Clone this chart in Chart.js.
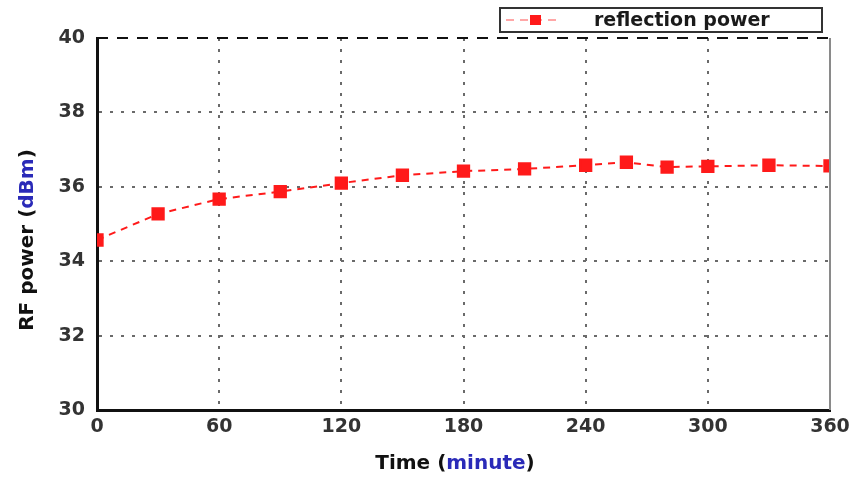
<!DOCTYPE html>
<html>
<head>
<meta charset="utf-8">
<script src="https://cdn.jsdelivr.net/npm/chart.js@4"></script>
<style>
  html, body { margin: 0; padding: 0; background: #fff; }
  #wrap { width: 857px; height: 480px; position: relative; }
</style>
</head>
<body>
<div id="wrap"><canvas id="chart" width="857" height="480"></canvas></div>
<script>
(function() {
  "use strict";

  // ── Data ──
  const timeMin = [0, 30, 60, 90, 120, 150, 180, 210, 240, 260, 280, 300, 330, 360];
  const rfPower = [34.57, 35.27, 35.67, 35.87, 36.1, 36.31, 36.42, 36.48, 36.58, 36.66, 36.53, 36.55, 36.58, 36.56];
  const xTicks = [0, 60, 120, 180, 240, 300, 360];
  const yTicks = [30, 32, 34, 36, 38, 40];
  const seriesName = 'reflection power';

  const RED = '#ff1a1a';
  const FONT = "'DejaVu Sans', sans-serif";

  // ── Frame + axis titles + legend ──
  const decor = {
    id: 'decor',
    afterDraw(chart) {
      const { ctx, chartArea: a } = chart;
      ctx.save();

      // right frame
      ctx.strokeStyle = '#8a8a8a';
      ctx.lineWidth = 2;
      ctx.beginPath();
      ctx.moveTo(a.right, a.top);
      ctx.lineTo(a.right, a.bottom);
      ctx.stroke();

      // top frame, dashed
      ctx.strokeStyle = '#111';
      ctx.lineWidth = 2;
      ctx.setLineDash([11, 9]);
      ctx.beginPath();
      ctx.moveTo(a.left, a.top);
      ctx.lineTo(a.right, a.top);
      ctx.stroke();
      ctx.setLineDash([]);

      // x title: Time (minute)
      ctx.font = `bold 20px ${FONT}`;
      ctx.textBaseline = 'middle';
      const parts = [['Time (', '#111'], ['minute', '#2a2ab8'], [')', '#111']];
      const total = parts.reduce((s, p) => s + ctx.measureText(p[0]).width, 0);
      let x = 455 - total / 2;
      parts.forEach(([t, c]) => {
        ctx.fillStyle = c;
        ctx.textAlign = 'left';
        ctx.fillText(t, x, 464);
        x += ctx.measureText(t).width;
      });

      // y title: RF power (dBm)
      ctx.translate(28, 240);
      ctx.rotate(-Math.PI / 2);
      const yparts = [['RF power (', '#111'], ['dBm', '#2a2ab8'], [')', '#111']];
      const ytot = yparts.reduce((s, p) => s + ctx.measureText(p[0]).width, 0);
      let yx = -ytot / 2;
      yparts.forEach(([t, c]) => {
        ctx.fillStyle = c;
        ctx.fillText(t, yx, 0);
        yx += ctx.measureText(t).width;
      });
      ctx.setTransform(1, 0, 0, 1, 0, 0);

      // legend box
      const lx = 500, ly = 8, lw = 322, lh = 24;
      ctx.fillStyle = '#fff';
      ctx.fillRect(lx, ly, lw, lh);
      ctx.strokeStyle = '#333';
      ctx.lineWidth = 2;
      ctx.strokeRect(lx, ly, lw, lh);
      ctx.strokeStyle = 'rgba(255,60,60,0.45)';
      ctx.setLineDash([8, 6]);
      ctx.beginPath();
      ctx.moveTo(lx + 6, ly + lh / 2);
      ctx.lineTo(lx + 62, ly + lh / 2);
      ctx.stroke();
      ctx.setLineDash([]);
      ctx.fillStyle = RED;
      ctx.fillRect(lx + 30, ly + lh / 2 - 5, 11, 10);
      ctx.fillStyle = '#1a1a1a';
      ctx.font = `bold 19px ${FONT}`;
      ctx.textAlign = 'left';
      ctx.fillText(seriesName, lx + 94, ly + lh / 2 + 1);

      ctx.restore();
    }
  };

  new Chart(document.getElementById('chart'), {
    type: 'line',
    data: {
      datasets: [{
        label: seriesName,
        data: timeMin.map((t, i) => ({ x: t, y: rfPower[i] })),
        borderColor: RED,
        backgroundColor: RED,
        borderWidth: 2,
        borderDash: [7, 6],
        pointStyle: 'rect',
        pointRadius: 8,
        pointHoverRadius: 8,
        tension: 0,
      }]
    },
    options: {
      responsive: false,
      animation: false,
      events: [],
      layout: { padding: { top: 38, right: 27, bottom: 0, left: 0 } },
      plugins: { legend: { display: false }, tooltip: { enabled: false } },
      scales: {
        x: {
          type: 'linear',
          min: 0, max: 360,
          afterBuildTicks: s => { s.ticks = xTicks.map(v => ({ value: v })); },
          afterFit: s => { s.height = 70; },
          ticks: { color: '#333', font: { family: FONT, size: 19, weight: 'bold' }, padding: 6, maxRotation: 0 },
          grid: {
            color: c => (c.tick && (c.tick.value === 0 || c.tick.value === 360)) ? 'rgba(0,0,0,0)' : '#6a6a6a',
            lineWidth: 2,
            drawTicks: false,
          },
          border: { color: '#111', width: 3, dash: [3, 8] },
        },
        y: {
          min: 30, max: 40,
          afterBuildTicks: s => { s.ticks = yTicks.map(v => ({ value: v })); },
          afterFit: s => { s.width = 97; },
          ticks: { color: '#333', font: { family: FONT, size: 19, weight: 'bold' }, padding: 12 },
          grid: {
            color: c => {
              if (!c.tick) return '#6a6a6a';
              if (c.tick.value === 40 || c.tick.value === 30) return 'rgba(0,0,0,0)';
              return '#6a6a6a';
            },
            lineWidth: 2,
            drawTicks: false,
          },
          border: { color: '#111', width: 3, dash: [3, 8] },
        }
      }
    },
    plugins: [decor]
  });
})();
</script>
</body>
</html>
